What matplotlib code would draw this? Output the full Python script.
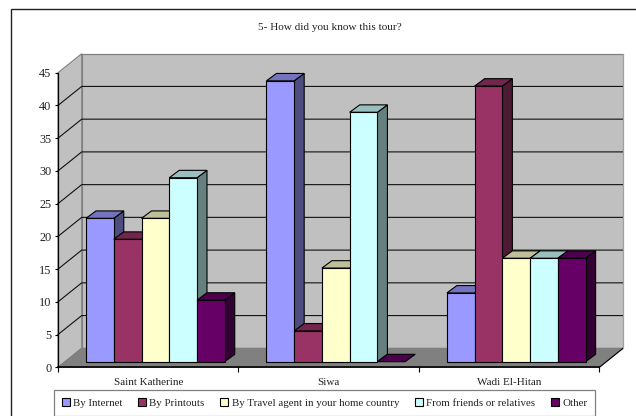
import matplotlib
matplotlib.use('Agg')
import matplotlib.pyplot as plt
from matplotlib.patches import Patch, Rectangle

plt.rcParams['font.family'] = ['Liberation Serif', 'DejaVu Serif']

W, H = 636, 416

categories = ['Saint Katherine', 'Siwa', 'Wadi El-Hitan']
by_internet = [21.9, 42.9, 10.5]
by_printouts = [18.7, 4.7, 42.1]
by_agent = [21.9, 14.3, 15.8]
by_friends = [28.1, 38.1, 15.8]
by_other = [9.4, 0, 15.8]

series_names = ['By Internet', 'By Printouts', 'By Travel agent in your home country',
                'From friends or relatives', 'Other']
series_values = [by_internet, by_printouts, by_agent, by_friends, by_other]
front_colors = ['#9999FF', '#993366', '#FFFFCC', '#CCFFFF', '#660066']
top_colors = ['#7373BF', '#73264D', '#BFBF99', '#99BFBF', '#4D004D']
side_colors = ['#4D4D80', '#4D1A33', '#808066', '#668080', '#330033']
y_ticks = [0, 5, 10, 15, 20, 25, 30, 35, 40, 45]

# plot area of the front plane, in pixels
left, right, bottom, top = 58.0, 599.3, 367.3, 72.7
y_max = 45
px_x = (right - left) / 3
px_y = (bottom - top) / y_max

# oblique depth of the box and of the bars, in data units
depth_x = 23.7 / px_x
depth_y = 19.0 / px_y
bar_shift_x = 7.0 / px_x
bar_shift_y = 5.6 / px_y
bar_depth_x = 10.0 / px_x
bar_depth_y = 7.4 / px_y
bar_width = 27.75 / px_x
gap = 21.0 / px_x

fig = plt.figure(figsize=(W / 100, H / 100), dpi=100)
# page border, its right and bottom edges run off the figure
fig.add_artist(Rectangle((11.0 / W, -0.1), 1.1, 0.1 + (H - 8.7) / H, transform=fig.transFigure,
                         fill=False, ec='#222222', lw=1.0))

ax = fig.add_axes([left / W, (H - bottom) / H, (right - left) / W, (bottom - top) / H])
ax.set_xlim(0, 3)
ax.set_ylim(0, y_max)
ax.patch.set_visible(False)


def quad(xs, ys, fc, ec, lw=0.8, z=1):
    ax.fill(xs, ys, fc=fc, ec=ec, lw=lw, clip_on=False, zorder=z, joinstyle='miter')


# box walls and floor
quad([depth_x, 3 + depth_x, 3 + depth_x, depth_x],
     [depth_y, depth_y, y_max + depth_y, y_max + depth_y], '#C0C0C0', '#808080')
quad([0, depth_x, depth_x, 0], [0, depth_y, y_max + depth_y, y_max], '#C0C0C0', '#808080')
quad([0, 3, 3 + depth_x, depth_x], [0, 0, depth_y, depth_y], '#808080', '#808080')
ax.plot([3, 3 + depth_x], [0, depth_y], color='k', lw=0.8, clip_on=False, zorder=1.5)

for v in y_ticks[1:-1]:
    ax.plot([0, depth_x, 3 + depth_x], [v, v + depth_y, v + depth_y], color='#111111', lw=0.8,
            clip_on=False, zorder=1.5)
ax.plot([depth_x, 3 + depth_x], [y_max + depth_y] * 2, color='#808080', lw=0.8, clip_on=False, zorder=1.5)
ax.plot([3 + depth_x] * 2, [depth_y, y_max + depth_y], color='#A0A0A0', lw=0.8, clip_on=False, zorder=1.5)

# 3d bars, left to right so that each front covers its neighbour's side
z = 2.0
for c in range(len(categories)):
    for s, vals in enumerate(series_values):
        v = vals[c]
        x0 = c + gap + bar_shift_x + s * bar_width
        x1 = x0 + bar_width
        y0 = bar_shift_y
        y1 = y0 + v
        if v > 0:
            quad([x1, x1 + bar_depth_x, x1 + bar_depth_x, x1],
                 [y0, y0 + bar_depth_y, y1 + bar_depth_y, y1], side_colors[s], 'k', z=z)
        quad([x0, x1, x1 + bar_depth_x, x0 + bar_depth_x],
             [y1, y1, y1 + bar_depth_y, y1 + bar_depth_y], top_colors[s], 'k', z=z)
        if v > 0:
            ax.bar(x0, v, bar_width, bottom=y0, align='edge', color=front_colors[s], edgecolor='k',
                   linewidth=0.8, clip_on=False, zorder=z + 0.5)
        z += 1

for name in ['top', 'right']:
    ax.spines[name].set_visible(False)
ax.spines['left'].set_linewidth(0.9)
ax.spines['bottom'].set_linewidth(1.2)
ax.spines['left'].set_zorder(60)
ax.spines['bottom'].set_zorder(60)

ax.set_yticks(y_ticks)
ax.set_xticks([0, 1, 2, 3])
ax.set_xticklabels([])
ax.set_xticks([0.5, 1.5, 2.5], minor=True)
ax.set_xticklabels(categories, minor=True)
ax.tick_params(axis='x', which='major', length=3.5, width=0.8)
ax.tick_params(axis='x', which='minor', length=0, pad=7.5, labelsize=8.0, labelcolor='#222222')
ax.tick_params(axis='y', length=2.5, width=0.8, pad=2.3, labelsize=8.8, labelcolor='#222222')

fig.text(330 / W, (H - 28) / H, '5- How did you know this tour?', ha='center', va='center',
         fontsize=8.1, color='#222222')

handles = [Patch(fc=c, ec='k', lw=0.8) for c in front_colors]
leg = fig.legend(handles, series_names, ncol=5, loc='center', bbox_to_anchor=(324.5 / W, (H - 402.7) / H),
                 fontsize=7.8, frameon=True, fancybox=False, edgecolor='#808080', framealpha=1,
                 handlelength=0.74, handleheight=0.74, handletextpad=0.3, columnspacing=1.45,
                 borderpad=0.75, labelcolor='#222222')
leg.get_frame().set_linewidth(0.9)

fig.savefig('out.png', dpi=100)
